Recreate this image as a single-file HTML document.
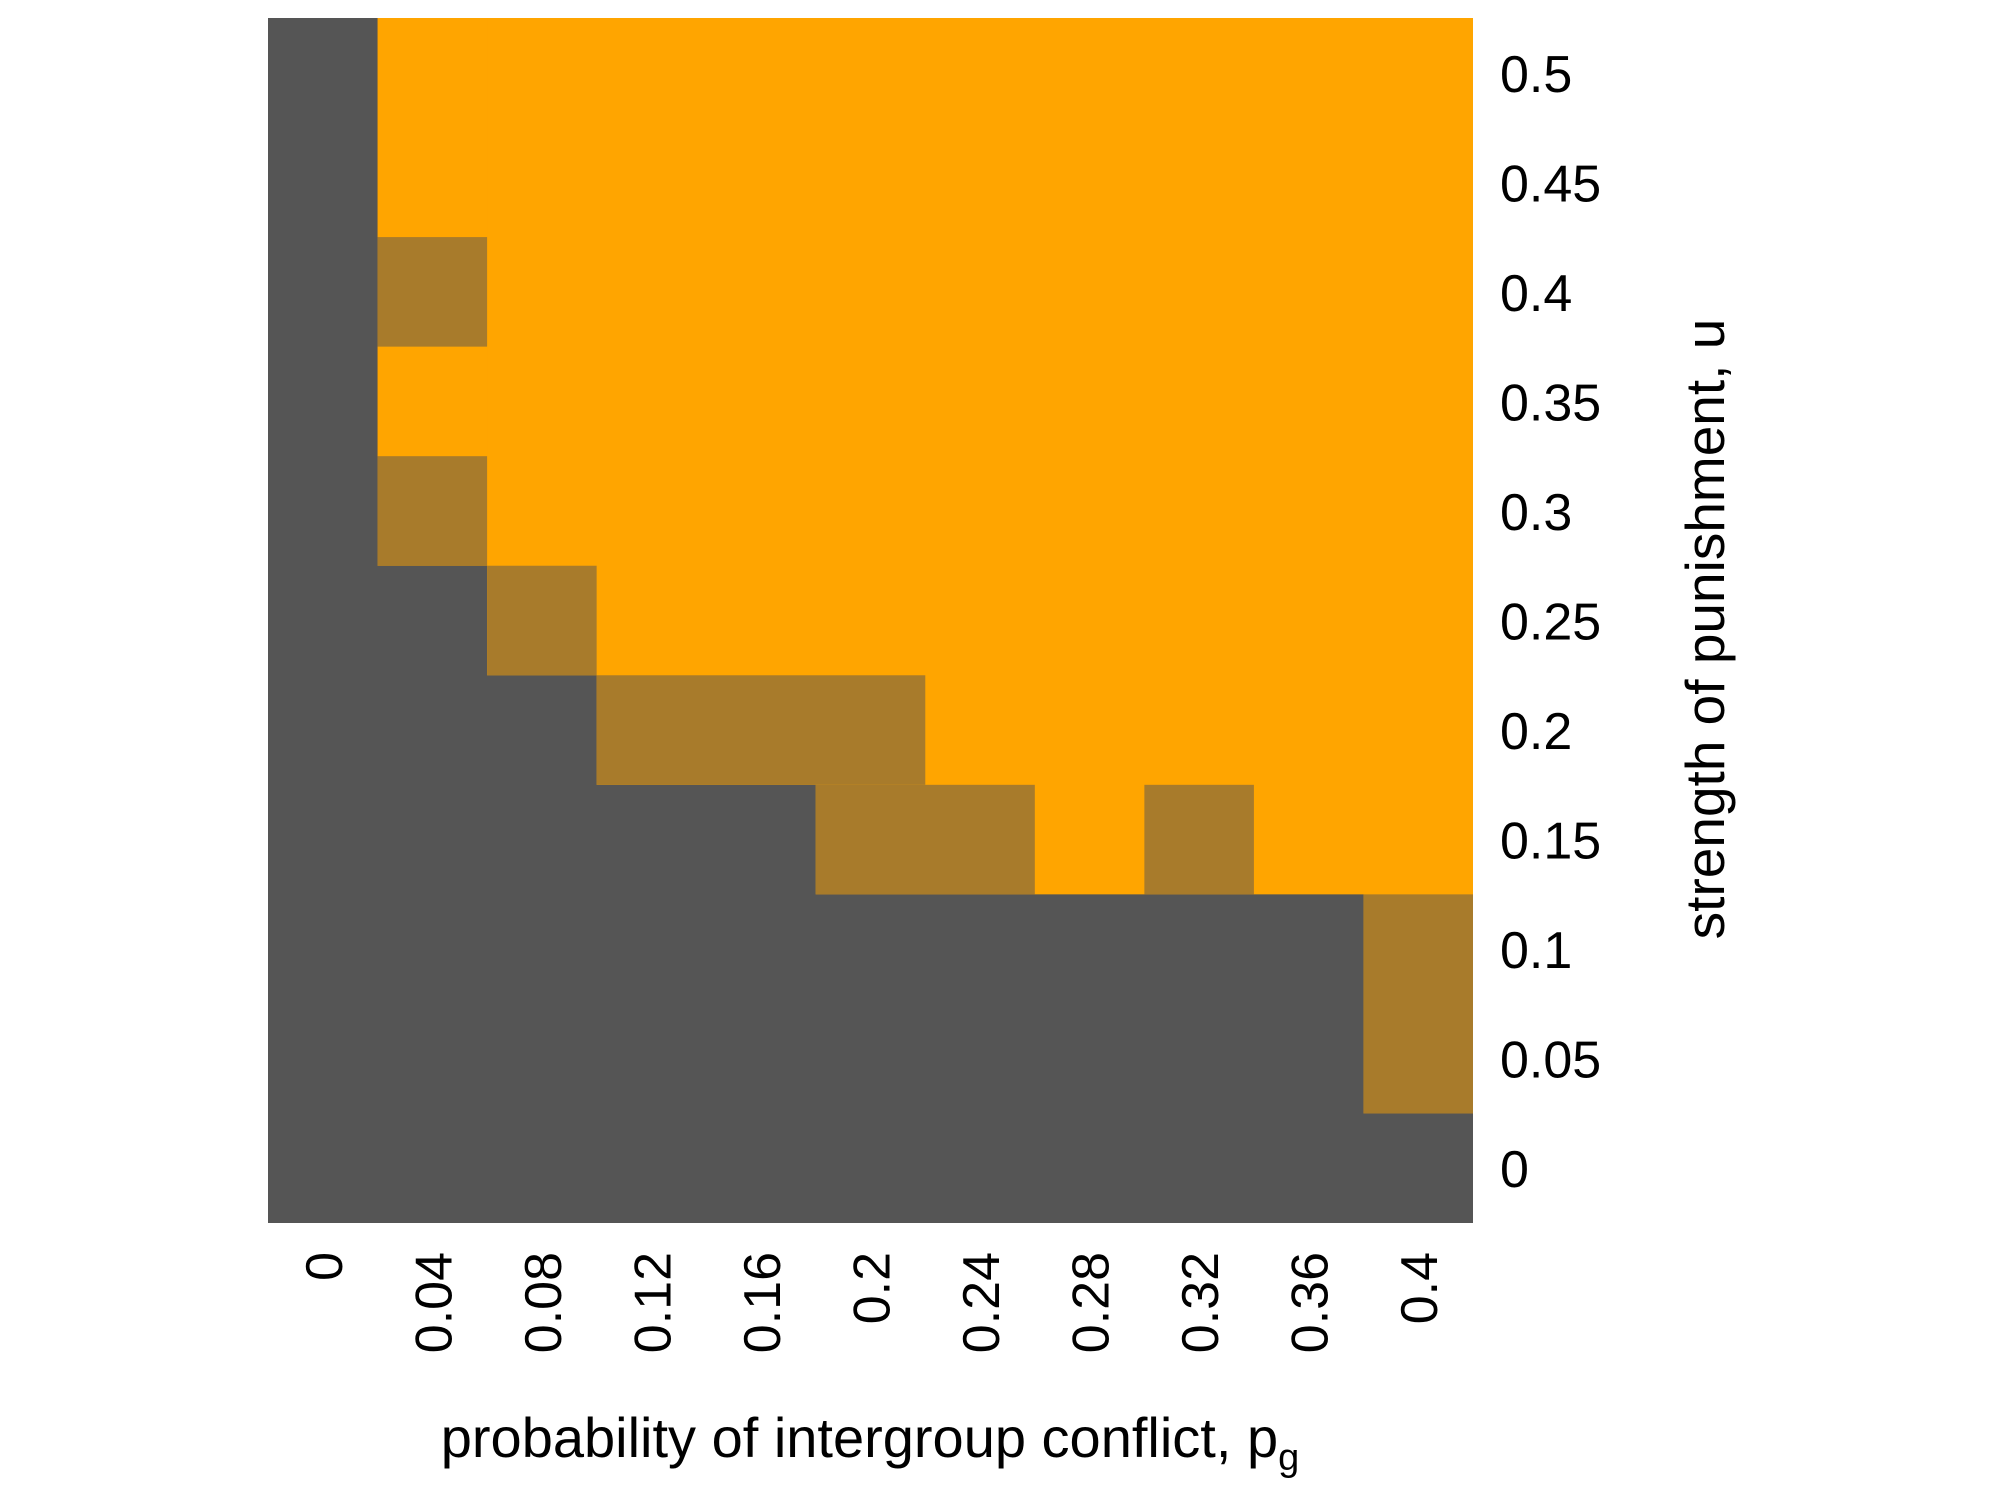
<!DOCTYPE html>
<html><head><style>html,body{margin:0;padding:0;background:#fff}</style></head>
<body>
<svg width="2000" height="1500" xmlns="http://www.w3.org/2000/svg" font-family="Liberation Sans, Arial, sans-serif">
<rect width="2000" height="1500" fill="#fff"/>
<rect x="268" y="18" width="1205" height="1205" fill="#555555"/>
<g fill="#FFA500">
<rect x="377.55" y="18" width="110" height="547.73"/>
<rect x="487.09" y="18" width="110" height="657.27"/>
<rect x="596.64" y="18" width="219.6" height="766.82"/>
<rect x="815.73" y="18" width="548.2" height="876.36"/>
<rect x="1363.45" y="18" width="109.55" height="1095.45"/>
</g>
<g fill="#A87B2B">
<rect x="377.55" y="237.09" width="109.55" height="109.55"/>
<rect x="377.55" y="456.18" width="109.55" height="109.55"/>
<rect x="487.09" y="565.73" width="109.55" height="109.55"/>
<rect x="596.64" y="675.27" width="328.64" height="109.55"/>
<rect x="815.73" y="784.82" width="219.09" height="109.55"/>
<rect x="1144.36" y="784.82" width="109.55" height="109.55"/>
<rect x="1363.45" y="894.36" width="109.55" height="219.09"/>
</g>
<g font-size="52" fill="#000">
<text x="1500" y="91.8">0.5</text>
<text x="1500" y="201.3">0.45</text>
<text x="1500" y="310.9">0.4</text>
<text x="1500" y="420.4">0.35</text>
<text x="1500" y="530">0.3</text>
<text x="1500" y="639.5">0.25</text>
<text x="1500" y="749">0.2</text>
<text x="1500" y="858.6">0.15</text>
<text x="1500" y="968.1">0.1</text>
<text x="1500" y="1077.7">0.05</text>
<text x="1500" y="1187.2">0</text>
</g>
<g font-size="52" fill="#000" text-anchor="end">
<text transform="translate(341.8,1252) rotate(-90)">0</text>
<text transform="translate(451.3,1252) rotate(-90)">0.04</text>
<text transform="translate(560.9,1252) rotate(-90)">0.08</text>
<text transform="translate(670.4,1252) rotate(-90)">0.12</text>
<text transform="translate(780,1252) rotate(-90)">0.16</text>
<text transform="translate(889.5,1252) rotate(-90)">0.2</text>
<text transform="translate(999,1252) rotate(-90)">0.24</text>
<text transform="translate(1108.6,1252) rotate(-90)">0.28</text>
<text transform="translate(1218.1,1252) rotate(-90)">0.32</text>
<text transform="translate(1327.7,1252) rotate(-90)">0.36</text>
<text transform="translate(1437.2,1252) rotate(-90)">0.4</text>
</g>
<text x="870" y="1457" text-anchor="middle" font-size="56" fill="#000">probability of intergroup conflict, p<tspan font-size="38" dy="13">g</tspan></text>
<text transform="translate(1724,629) rotate(-90)" text-anchor="middle" font-size="55" fill="#000">strength of punishment, u</text>
</svg>
</body></html>
